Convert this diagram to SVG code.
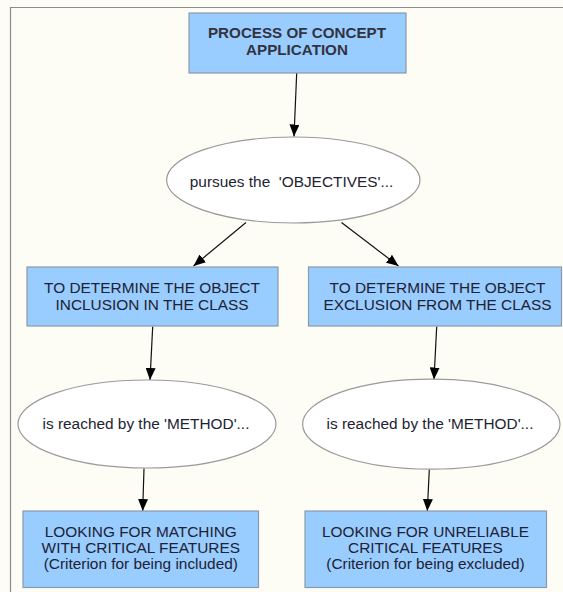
<svg xmlns="http://www.w3.org/2000/svg" width="563" height="592" viewBox="0 0 563 592">
  <style>
    .box { fill: #99ccff; stroke: #8a9aaa; stroke-width: 1.2; }
    .oval { fill: #ffffff; stroke: #9a9a9a; stroke-width: 1.2; }
    .txt { font-family: "Liberation Sans", Arial, sans-serif; font-size: 15.4px; fill: #1e2232; text-anchor: middle; }
    .title { font-weight: bold; font-size: 15.2px; fill: #333340; }
    .link { stroke: #111111; stroke-width: 1.2; fill: none; marker-end: url(#arrow); }
  </style>
  <defs>
    <marker id="arrow" viewBox="0 0 12 10" refX="12" refY="5" markerWidth="12" markerHeight="10" markerUnits="userSpaceOnUse" orient="auto">
      <path d="M0,0 L12,5 L0,10 Z" fill="#000000"/>
    </marker>
  </defs>

  <!-- page background and frame -->
  <rect x="0" y="0" width="563" height="592" fill="#fdfdf6"/>
  <path d="M10.5,592 V7.5 H563" fill="none" stroke="#8c8c8c" stroke-width="1.2"/>

  <!-- connectors -->
  <g id="connectors">
    <line class="link" x1="296.7" y1="73" x2="294" y2="136.5"/>
    <line class="link" x1="246" y1="222.5" x2="193.5" y2="266"/>
    <line class="link" x1="341.5" y1="222.5" x2="398.5" y2="266"/>
    <line class="link" x1="152.7" y1="326.5" x2="150" y2="380"/>
    <line class="link" x1="436.7" y1="326.5" x2="434" y2="379.5"/>
    <line class="link" x1="144" y1="468.5" x2="142.7" y2="511"/>
    <line class="link" x1="429.3" y1="469.5" x2="427.3" y2="511"/>
  </g>

  <g id="process">
    <rect class="box" x="189" y="13" width="217" height="60"/>
    <text class="txt title" x="297" y="38">PROCESS OF CONCEPT</text>
    <text class="txt title" x="297" y="55">APPLICATION</text>
  </g>

  <g id="objectives">
    <ellipse class="oval" cx="293.3" cy="180" rx="126.7" ry="43"/>
    <text class="txt" x="291.5" y="187" xml:space="preserve">pursues the  'OBJECTIVES'...</text>
  </g>

  <g id="inclusion">
    <rect class="box" x="27" y="267" width="251" height="59"/>
    <text class="txt" x="152" y="292.7">TO DETERMINE THE OBJECT</text>
    <text class="txt" x="152" y="310">INCLUSION IN THE CLASS</text>
  </g>

  <g id="exclusion">
    <rect class="box" x="308.5" y="267" width="253" height="59"/>
    <text class="txt" x="437.5" y="292.7">TO DETERMINE THE OBJECT</text>
    <text class="txt" x="437.5" y="310">EXCLUSION FROM THE CLASS</text>
  </g>

  <g id="method-left">
    <ellipse class="oval" cx="147" cy="424" rx="129" ry="44"/>
    <text class="txt" x="146" y="429">is reached by the 'METHOD'...</text>
  </g>

  <g id="method-right">
    <ellipse class="oval" cx="431.3" cy="424.2" rx="128.7" ry="45"/>
    <text class="txt" x="430" y="429">is reached by the 'METHOD'...</text>
  </g>

  <g id="matching">
    <rect class="box" x="23" y="511" width="235.5" height="76.5"/>
    <text class="txt" x="140.8" y="536.7">LOOKING FOR MATCHING</text>
    <text class="txt" x="140.8" y="552.7">WITH CRITICAL FEATURES</text>
    <text class="txt" x="140.8" y="568.5">(Criterion for being included)</text>
  </g>

  <g id="unreliable">
    <rect class="box" x="305" y="511" width="241.5" height="76.5"/>
    <text class="txt" x="425.5" y="536.7">LOOKING FOR UNRELIABLE</text>
    <text class="txt" x="425.5" y="552.7">CRITICAL FEATURES</text>
    <text class="txt" x="425.5" y="568.5">(Criterion for being excluded)</text>
  </g>
</svg>
